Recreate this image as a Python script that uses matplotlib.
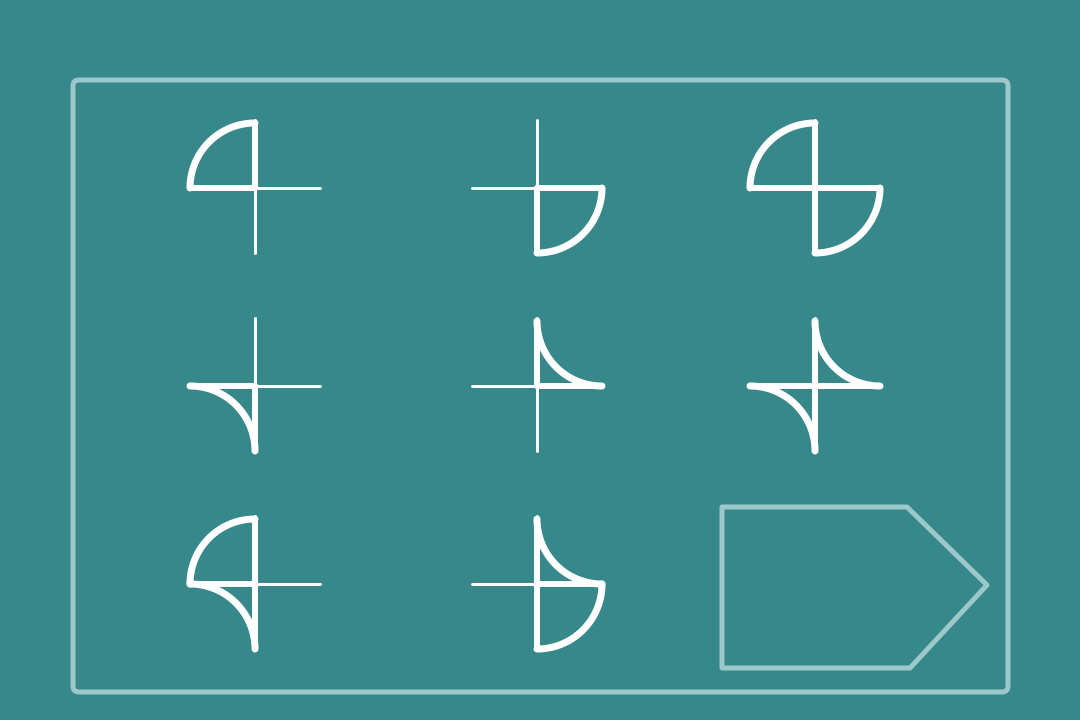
import numpy as np
import matplotlib.pyplot as plt
from matplotlib.patches import FancyBboxPatch, Polygon

bg = '#36888a'
frame_col = '#9cc8ca'

# cell centres (pixels) and arcs per cell: (quadrant, kind)
centres_x = [255, 537, 815]
centres_y = [188, 386, 584]
cells = [
    [('TL', 'convex')], [('BR', 'convex')], [('TL', 'convex'), ('BR', 'convex')],
    [('BL', 'concave')], [('TR', 'concave')], [('BL', 'concave'), ('TR', 'concave')],
    [('TL', 'convex'), ('BL', 'concave')], [('BR', 'convex'), ('TR', 'concave')], None,
]
arrow_pts = [(722, 507), (907, 507), (987, 585), (910, 668), (722, 668)]

R = 65
sign = {'TL': (-1, -1), 'TR': (1, -1), 'BL': (-1, 1), 'BR': (1, 1)}

fig = plt.figure(figsize=(10.8, 7.2), dpi=100)
fig.patch.set_facecolor(bg)
ax = fig.add_axes([0, 0, 1, 1])
ax.set_xlim(0, 1080)
ax.set_ylim(720, 0)
ax.axis('off')

ax.add_patch(FancyBboxPatch((73, 80), 935, 612, boxstyle='round,pad=0,rounding_size=6',
                            fill=False, ec=frame_col, lw=5 * 0.72))

t = np.linspace(0, np.pi / 2, 60)
for i, arcs in enumerate(cells):
    if arcs is None:
        continue
    cx, cy = centres_x[i % 3], centres_y[i // 3]
    ax.plot([cx - R, cx + R], [cy, cy], color='white', lw=3 * 0.72, solid_capstyle='round')
    ax.plot([cx, cx], [cy - R - 3, cy + R], color='white', lw=3 * 0.72, solid_capstyle='round')
    for q, kind in arcs:
        sx, sy = sign[q]
        if kind == 'convex':
            xs = cx + sx * R * np.cos(t)
            ys = cy + sy * R * np.sin(t)
        else:
            ox, oy = cx + sx * R, cy + sy * R
            xs = ox - sx * R * np.cos(t)
            ys = oy - sy * R * np.sin(t)
            xs, ys = xs[::-1], ys[::-1]
            xs = ox - sx * R * np.sin(t)
            ys = oy - sy * R * np.cos(t)
        ax.plot(xs, ys, color='white', lw=7 * 0.72, solid_capstyle='round')
        # the straight arms along the arc's quadrant
        ax.plot([cx, cx + sx * R], [cy, cy], color='white', lw=6 * 0.72, solid_capstyle='round')
        ax.plot([cx, cx], [cy, cy + sy * R], color='white', lw=6 * 0.72, solid_capstyle='round')

ax.add_patch(Polygon(arrow_pts, closed=True, fill=False, ec=frame_col, lw=5 * 0.72, joinstyle='round'))

fig.savefig('out.png', dpi=100, facecolor=bg)
